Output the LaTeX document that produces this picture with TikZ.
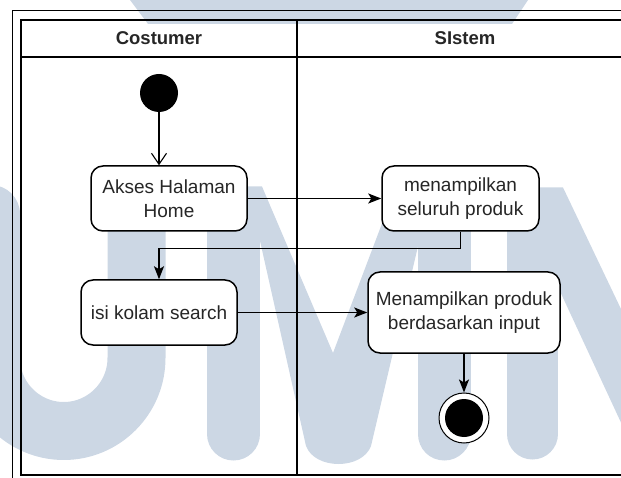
\documentclass[tikz,border=0pt]{standalone}
\usepackage{fontspec}
\setmainfont{Liberation Sans}
\usetikzlibrary{arrows.meta}
\definecolor{wm}{RGB}{204,215,228}
\definecolor{ink}{RGB}{38,38,38}

\begin{document}
\begin{tikzpicture}[x=1pt,y=-1pt,
  act/.style={draw=black, line width=1.5pt, rounded corners=12pt, fill=white,
    align=center, inner sep=0pt, text=ink, font=\fontsize{19}{23.5}\selectfont},
  hdr/.style={inner sep=0pt, text=ink, font=\bfseries\fontsize{18.5}{22}\selectfont},
  flow/.style={draw=black, line width=1.4pt, -{Stealth[length=13pt,width=10pt,inset=3pt]}},
  openflow/.style={draw=black, line width=1.1pt, -{Straight Barb[length=11pt,width=15pt]}},
  lane/.style={draw=black, line width=1.6pt},
  wmstroke/.style={draw=wm, line width=53pt, line cap=round, line join=round}
]
\useasboundingbox (0,0) rectangle (621,478);
\clip (0,0) rectangle (621,478);

% background watermark letters
\fill[wm] (130,0) -- (528,0) -- (512,24) -- (148,24) -- cycle;
% U
\draw[wmstroke, line width=58pt] (-9,214) -- (-9,358)
  .. controls (-9,398.2) and (23.6,431) .. (63.75,431)
  .. controls (103.9,431) and (136.5,398.2) .. (136.5,358) -- (136.5,214);
% M
\draw[wmstroke] (233.5,213) -- (233.5,434);
\draw[wmstroke] (444,213) -- (444,434);
\fill[wm] (233,186.5) -- (262,186.5) -- (333,353) -- (396,186.5) -- (444,186.5)
  -- (444,240) -- (419,242) -- (371,446)
  .. controls (362,470) and (315,470) .. (306,446)
  -- (258,232) -- (233,230) -- cycle;
% N
\draw[wmstroke, line width=51pt] (532.5,213) -- (532.5,434);
\fill[wm] (532,187.5) -- (563,187.5) -- (705,485) -- (650,485) -- (558,287) -- (532,287) -- cycle;

% swimlane frame
\draw[line width=1pt] (12,478) -- (12,11) -- (630,11);
\draw[lane] (630,20) -- (21,20) -- (21,475) -- (630,475);
\draw[lane] (21,57) -- (630,57);
\draw[line width=1.3pt] (297,20) -- (297,475);

\node[hdr] (h1) at (159,38) {Costumer};
\node[hdr] (h2) at (465,38) {SIstem};

% activities
\node[circle, fill=black, minimum size=38pt, inner sep=0pt] (start) at (159,93) {};
\node[act, minimum width=156pt, minimum height=65pt] (akses) at (169,198.5) {Akses Halaman\\Home};
\node[act, minimum width=157pt, minimum height=65pt] (tampil) at (460.5,198.5) {menampilkan\\seluruh produk};
\node[act, minimum width=156pt, minimum height=65pt] (isi) at (159,312.5) {isi kolam search};
\node[act, minimum width=192pt, minimum height=81pt] (produk) at (464,312.5) {Menampilkan produk\\berdasarkan input};
\node[circle, draw=black, line width=1pt, fill=white, minimum size=50pt, inner sep=0pt] (end) at (464,418) {};
\node[circle, fill=black, minimum size=38pt, inner sep=0pt] (endcore) at (end.center) {};

% control flow
\draw[openflow] (start.south) -- (start.south |- akses.north);
\draw[flow] (akses.east) -- (tampil.west);
\draw[flow] (tampil.south) -- ++(0,17) -| (isi.north);
\draw[flow] (isi.east) -- (produk.west);
\draw[flow] (produk.south) -- (end.north);
\end{tikzpicture}
\end{document}
